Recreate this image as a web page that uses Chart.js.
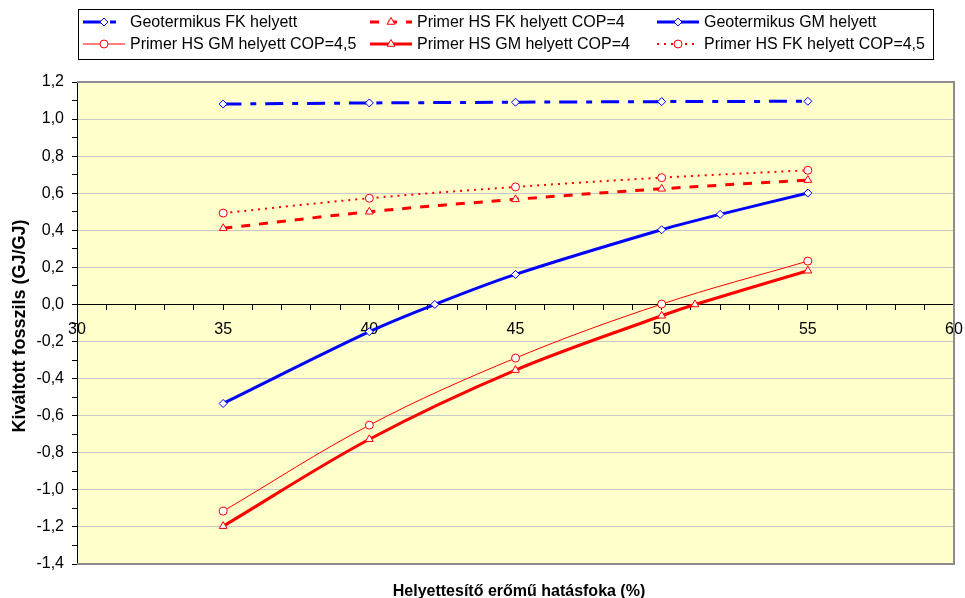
<!DOCTYPE html>
<html>
<head>
<meta charset="utf-8">
<script src="https://cdn.jsdelivr.net/npm/chart.js@4.4.1/dist/chart.umd.min.js"></script>
<style>
  html, body { margin: 0; padding: 0; background: #ffffff; }
  #wrap { width: 965px; height: 598px; position: relative; }
</style>
</head>
<body>
<div id="wrap"><canvas id="chart" width="965" height="598"></canvas></div>
<script>
// Helyettesítő erőmű hatásfoka (%) – x values
const efficiency = [35, 40, 45, 50, 55];

// Geotermikus FK helyett
const geoFK = [1.081, 1.087, 1.091, 1.094, 1.096];
// Primer HS FK helyett COP=4
const hsFK4 = [0.411, 0.500, 0.567, 0.624, 0.671];
// Primer HS FK helyett COP=4,5
const hsFK45 = [0.493, 0.573, 0.634, 0.684, 0.724];

// Geotermikus GM helyett (extra points at the zero crossing and at 52 %)
const geoGMx = [35, 40, 42.24, 45, 50, 52, 55];
const geoGM = [-0.534, -0.147, 0.0, 0.162, 0.403, 0.486, 0.601];

// Primer HS GM helyett COP=4,5
const hsGM45 = [-1.115, -0.651, -0.289, 0.002, 0.234];

// Primer HS GM helyett COP=4 (extra point at the zero crossing)
const hsGM4x = [35, 40, 45, 50, 51.14, 55];
const hsGM4 = [-1.196, -0.727, -0.354, -0.061, 0.0, 0.182];

// Axis settings
const xTicks = { min: 30, max: 60, major: 5, minor: 1 };
const yTicks = { min: -1.4, max: 1.2, minor: 0.1 };

const seriesNames = [
  'Geotermikus FK helyett',
  'Primer HS FK helyett COP=4',
  'Geotermikus GM helyett',
  'Primer HS GM helyett COP=4,5',
  'Primer HS GM helyett COP=4',
  'Primer HS FK helyett COP=4,5'
];

const FONT = '"Liberation Sans", Arial, Helvetica, sans-serif';
const BLUE = '#0000ff';
const RED = '#ff0000';

const pairs = (xs, ys) => xs.map((x, i) => ({ x: x, y: ys[i] }));

const styles = [
  { color: BLUE, width: 3, dash: [18, 9, 6, 9], point: 'rectRot', r: 4 },
  { color: RED, width: 3, dash: [9, 9], point: 'triangle', r: 4.5 },
  { color: BLUE, width: 3, dash: [], point: 'rectRot', r: 4 },
  { color: RED, width: 1, dash: [], point: 'circle', r: 4 },
  { color: RED, width: 3, dash: [], point: 'triangle', r: 4.5 },
  { color: RED, width: 2, dash: [2, 5], point: 'circle', r: 4 }
];

const seriesData = [
  pairs(efficiency, geoFK),
  pairs(efficiency, hsFK4),
  pairs(geoGMx, geoGM),
  pairs(efficiency, hsGM45),
  pairs(hsGM4x, hsGM4),
  pairs(efficiency, hsFK45)
];

const datasets = seriesData.map((d, i) => {
  const s = styles[i];
  return {
    label: seriesNames[i],
    data: d,
    borderColor: s.color,
    borderWidth: s.width,
    borderDash: s.dash,
    borderCapStyle: 'butt',
    tension: 0.35,
    fill: false,
    pointStyle: s.point,
    pointRadius: s.r,
    pointHoverRadius: s.r,
    pointBorderColor: s.color,
    pointBorderWidth: 1,
    pointBackgroundColor: '#ffffff',
    order: i
  };
});

const isMajorY = v => Math.round(v * 10) % 2 === 0;
const fmtY = v => (Math.round(v * 10) / 10).toFixed(1).replace('.', ',');

// Plot area fill and frame
const plotFrame = {
  id: 'plotFrame',
  beforeDraw(chart) {
    const { ctx, chartArea: a } = chart;
    ctx.save();
    ctx.fillStyle = '#ffffff';
    ctx.fillRect(0, 0, chart.width, chart.height);
    ctx.fillStyle = '#ffffcc';
    ctx.fillRect(a.left, a.top, a.right - a.left, a.bottom - a.top);
    ctx.restore();
  },
  beforeDatasetsDraw(chart) {
    const { ctx, chartArea: a } = chart;
    ctx.save();
    ctx.strokeStyle = '#8c8c8c';
    ctx.lineWidth = 2;
    ctx.beginPath();
    ctx.moveTo(a.left, a.top);
    ctx.lineTo(a.right, a.top);
    ctx.lineTo(a.right, a.bottom);
    ctx.lineTo(a.left, a.bottom);
    ctx.stroke();
    ctx.restore();
  }
};

function drawMarker(ctx, style, x, y, r, color) {
  ctx.beginPath();
  if (style === 'circle') {
    ctx.arc(x, y, r, 0, Math.PI * 2);
  } else if (style === 'rectRot') {
    ctx.moveTo(x, y - r);
    ctx.lineTo(x + r, y);
    ctx.lineTo(x, y + r);
    ctx.lineTo(x - r, y);
    ctx.closePath();
  } else if (style === 'triangle') {
    ctx.moveTo(x, y - r);
    ctx.lineTo(x + r * 0.866, y + r / 2);
    ctx.lineTo(x - r * 0.866, y + r / 2);
    ctx.closePath();
  }
  ctx.fillStyle = '#ffffff';
  ctx.fill();
  ctx.setLineDash([]);
  ctx.lineWidth = 1;
  ctx.strokeStyle = color;
  ctx.stroke();
}

// Boxed legend in three columns, two rows
const boxLegend = {
  id: 'boxLegend',
  afterDraw(chart) {
    const { ctx } = chart;
    ctx.save();
    ctx.fillStyle = '#ffffff';
    ctx.fillRect(78.5, 9.5, 855, 50);
    ctx.strokeStyle = '#000000';
    ctx.lineWidth = 1;
    ctx.strokeRect(78.5, 9.5, 855, 50);
    const colX = [83, 370, 657];
    const rowY = [22, 44];
    const sampleLen = 42;
    ctx.font = '16px ' + FONT;
    ctx.textBaseline = 'middle';
    ctx.textAlign = 'left';
    seriesNames.forEach((name, i) => {
      const s = styles[i];
      const x0 = colX[i % 3];
      const y0 = rowY[Math.floor(i / 3)];
      ctx.beginPath();
      ctx.setLineDash(s.dash);
      ctx.lineCap = 'butt';
      ctx.lineWidth = s.width;
      ctx.strokeStyle = s.color;
      ctx.moveTo(x0, y0);
      ctx.lineTo(x0 + sampleLen, y0);
      ctx.stroke();
      drawMarker(ctx, s.point, x0 + sampleLen / 2, y0, s.r, s.color);
      ctx.fillStyle = '#000000';
      ctx.fillText(name, x0 + sampleLen + 5, y0 + 1);
    });
    ctx.restore();
  }
};

// Axis titles
const axisTitles = {
  id: 'axisTitles',
  afterDraw(chart) {
    const { ctx, chartArea: a } = chart;
    ctx.save();
    ctx.fillStyle = '#000000';
    ctx.textAlign = 'center';
    ctx.textBaseline = 'alphabetic';
    ctx.font = 'bold 16px ' + FONT;
    ctx.fillText('Helyettesítő erőmű hatásfoka (%)', 519, 595.5);
    ctx.translate(20, (a.top + a.bottom) / 2 + 3);
    ctx.rotate(-Math.PI / 2);
    ctx.textBaseline = 'middle';
    ctx.font = 'bold 18px ' + FONT;
    ctx.fillText('Kiváltott fosszils (GJ/GJ)', 0, 0);
    ctx.restore();
  }
};

new Chart(document.getElementById('chart').getContext('2d'), {
  type: 'line',
  data: { datasets: datasets },
  plugins: [plotFrame, boxLegend, axisTitles],
  options: {
    responsive: false,
    animation: false,
    events: [],
    layout: { padding: { top: 82, right: 11, bottom: 34, left: 0 } },
    plugins: {
      legend: { display: false },
      tooltip: { enabled: false },
      title: { display: false }
    },
    scales: {
      x: {
        type: 'linear',
        position: { y: 0 },
        min: xTicks.min,
        max: xTicks.max,
        afterFit: scale => { scale.paddingLeft = 0; scale.paddingRight = 0; },
        ticks: {
          stepSize: xTicks.minor,
          autoSkip: false,
          maxRotation: 0,
          padding: 11,
          color: '#000000',
          font: { family: FONT, size: 16 },
          callback: v => (Math.round(v) % xTicks.major === 0 ? String(Math.round(v)) : '')
        },
        grid: {
          drawOnChartArea: false,
          drawTicks: true,
          tickLength: 5,
          tickColor: '#000000'
        },
        border: { display: true, color: '#000000', width: 1 }
      },
      y: {
        type: 'linear',
        position: 'left',
        min: yTicks.min,
        max: yTicks.max,
        afterFit: scale => { scale.width = 77; scale.paddingTop = 0; scale.paddingBottom = 0; },
        ticks: {
          stepSize: yTicks.minor,
          autoSkip: false,
          padding: 8,
          color: '#000000',
          font: { family: FONT, size: 16 },
          callback: v => (isMajorY(v) ? fmtY(v) : '')
        },
        grid: {
          drawOnChartArea: true,
          drawTicks: true,
          tickLength: 5,
          tickColor: '#000000',
          lineWidth: 1,
          color: c => {
            const v = c.tick ? c.tick.value : 0;
            const k = Math.round(v * 10);
            if (k === 0 || k === 12 || k === -14) return 'rgba(0,0,0,0)';
            return isMajorY(v) ? '#c8c8c8' : 'rgba(0,0,0,0)';
          }
        },
        border: { display: true, color: '#000000', width: 1 }
      }
    }
  }
});
</script>
</body>
</html>
